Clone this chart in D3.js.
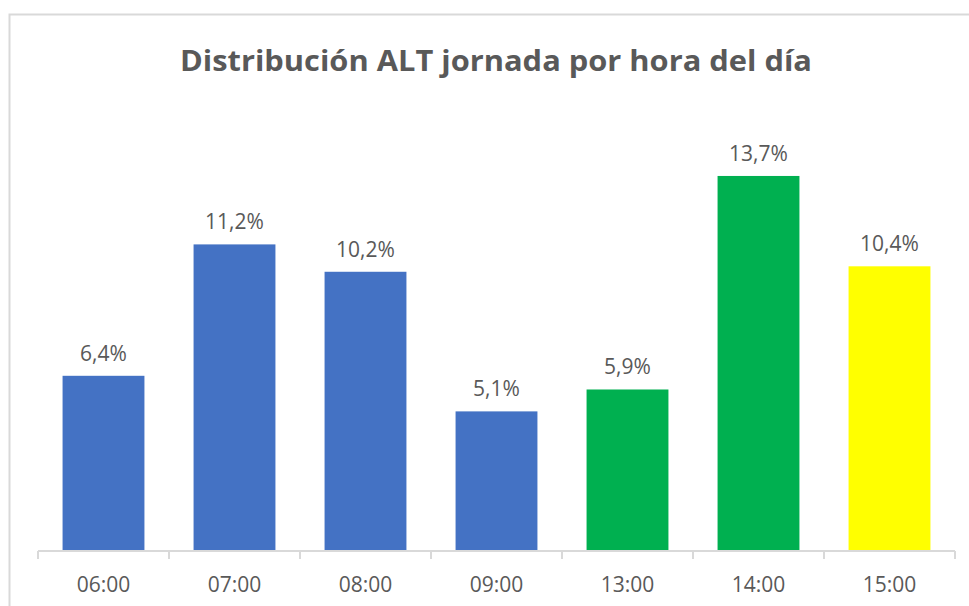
<!DOCTYPE html>
<html>
<head>
<meta charset="utf-8">
<script src="https://cdn.jsdelivr.net/npm/d3@7"></script>
<style>
  body { margin: 0; background: #fff; }
  text { font-family: "Open Sans", sans-serif; }
</style>
</head>
<body>
<div id="chart"></div>
<script>
// data
var horas = ["06:00", "07:00", "08:00", "09:00", "13:00", "14:00", "15:00"];
var porcentajes = [6.4, 11.2, 10.2, 5.1, 5.9, 13.7, 10.4];
var colores = ["#4472C4", "#4472C4", "#4472C4", "#4472C4", "#00B050", "#00B050", "#FFFF00"];
var titulo = "Distribución ALT jornada por hora del día";

var W = 969, H = 606;
var svg = d3.select("#chart").append("svg")
    .attr("width", W)
    .attr("height", H);

// chart frame (only top and left visible in the crop)
svg.append("path")
    .attr("d", "M9.5," + H + "V14.5H" + W)
    .attr("fill", "none")
    .attr("stroke", "#d9d9d9")
    .attr("stroke-width", 2);

var x = d3.scaleBand().domain(horas).range([38, 955]).paddingInner(0).paddingOuter(0);
var y = d3.scaleLinear().domain([0, 16]).range([551, 113]);
var barW = x.bandwidth() / 1.6;

var data = horas.map(function (h, i) {
    return { hora: h, valor: porcentajes[i], color: colores[i] };
});

svg.selectAll("rect.bar")
    .data(data)
    .enter().append("rect")
    .attr("class", "bar")
    .attr("x", function (d) { return x(d.hora) + (x.bandwidth() - barW) / 2; })
    .attr("y", function (d) { return y(d.valor); })
    .attr("width", barW)
    .attr("height", function (d) { return y(0) - y(d.valor); })
    .attr("fill", function (d) { return d.color; });

svg.selectAll("text.lbl")
    .data(data)
    .enter().append("text")
    .attr("class", "lbl")
    .attr("x", function (d) { return x(d.hora) + x.bandwidth() / 2; })
    .attr("y", function (d) { return y(d.valor) - 15; })
    .attr("text-anchor", "middle")
    .attr("font-size", 21)
    .attr("fill", "#595959")
    .text(function (d) { return d3.format(".1f")(d.valor).replace(".", ",") + "%"; });

// x axis, ticks between categories like Excel
var axis = svg.append("g").attr("transform", "translate(0,551)");
axis.append("line")
    .attr("x1", 38).attr("x2", 955)
    .attr("stroke", "#d9d9d9").attr("stroke-width", 2);
var bordes = horas.map(function (h) { return x(h); }).concat([x.range()[1]]);
axis.selectAll("line.tick")
    .data(bordes)
    .enter().append("line")
    .attr("class", "tick")
    .attr("x1", function (d) { return d; })
    .attr("x2", function (d) { return d; })
    .attr("y1", 0).attr("y2", 8)
    .attr("stroke", "#d9d9d9").attr("stroke-width", 2);
axis.selectAll("text")
    .data(horas)
    .enter().append("text")
    .attr("x", function (d) { return x(d) + x.bandwidth() / 2; })
    .attr("y", 41)
    .attr("text-anchor", "middle")
    .attr("font-size", 21)
    .attr("fill", "#595959")
    .text(function (d) { return d; });

svg.append("text")
    .attr("x", 496)
    .attr("y", 71)
    .attr("text-anchor", "middle")
    .attr("font-size", 28)
    .attr("font-weight", "bold")
    .attr("fill", "#595959")
    .attr("textLength", 632)
    .attr("lengthAdjust", "spacingAndGlyphs")
    .text(titulo);
</script>
</body>
</html>
